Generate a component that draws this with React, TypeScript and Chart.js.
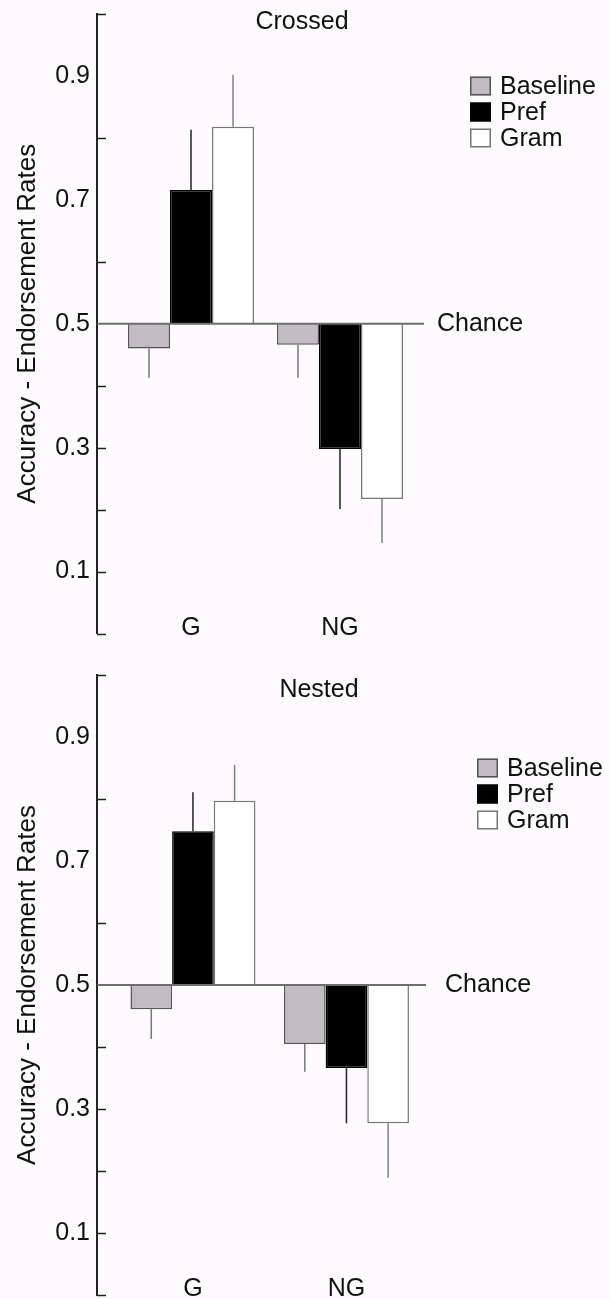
import React, { useEffect, useRef } from 'react';
import { Chart, registerables } from 'chart.js';

Chart.register(...registerables);

// ---------- data ----------
const GROUPS = ['G', 'NG'];
const GROUP_POS = [1, 2];
const SERIES = ['Baseline', 'Pref', 'Gram'];

const CROSSED_BASELINE = [0.46, 0.466];
const CROSSED_PREF = [0.716, 0.298];
const CROSSED_GRAM = [0.818, 0.217];
const CROSSED_BASELINE_ERR = [0.413, 0.413];
const CROSSED_PREF_ERR = [0.813, 0.201];
const CROSSED_GRAM_ERR = [0.902, 0.146];

const NESTED_BASELINE = [0.461, 0.405];
const NESTED_PREF = [0.748, 0.366];
const NESTED_GRAM = [0.797, 0.277];
const NESTED_BASELINE_ERR = [0.413, 0.36];
const NESTED_PREF_ERR = [0.811, 0.277];
const NESTED_GRAM_ERR = [0.855, 0.189];

const Y_TICK_LABELS = ['0.1', '0.3', '0.5', '0.7', '0.9'];
const Y_TICK_MARKS = [0, 0.1, 0.2, 0.3, 0.4, 0.6, 0.8, 1.0];
const CHANCE = 0.5;
const Y_TITLE = 'Accuracy - Endorsement Rates';
const CHANCE_LABEL = 'Chance';

// ---------- styles ----------
const FONT_FAMILY = '"Liberation Sans", Arial, sans-serif';
const FONT_SIZE = 25;
const TITLE_FONT_SIZE = 26;
const TEXT = '#111111';
const SERIES_FILL = ['#c0bcc1', '#000000', '#ffffff'];
const SERIES_BORDER = ['#555555', '#000000', '#777777'];
const SERIES_ERR = ['#777777', '#222222', '#808080'];

const decorPlugin = {
  id: 'decor',
  afterDatasetsDraw(chart: any, _args: any, opts: any) {
    const { ctx, chartArea: a, scales } = chart;
    const x = scales.x;
    const y = scales.y;
    ctx.save();

    // chance line
    const yc = y.getPixelForValue(CHANCE);
    ctx.strokeStyle = '#6e6e6e';
    ctx.lineWidth = 2;
    ctx.beginPath();
    ctx.moveTo(a.left, yc);
    ctx.lineTo(a.right, yc);
    ctx.stroke();

    // error bars (one-sided, away from chance)
    chart.data.datasets.forEach((ds: any, i: number) => {
      const meta = chart.getDatasetMeta(i);
      meta.data.forEach((el: any, j: number) => {
        const end = ds.errorEnds[j];
        ctx.strokeStyle = ds.errorColor;
        ctx.lineWidth = 1.5;
        ctx.beginPath();
        ctx.moveTo(el.x, el.y);
        ctx.lineTo(el.x, y.getPixelForValue(end));
        ctx.stroke();
      });
    });

    // inward tick marks on y axis
    ctx.strokeStyle = '#222222';
    ctx.lineWidth = 1.5;
    Y_TICK_MARKS.forEach((v) => {
      const py = Math.round(y.getPixelForValue(v)) + 0.5;
      ctx.beginPath();
      ctx.moveTo(a.left, py);
      ctx.lineTo(a.left + 9, py);
      ctx.stroke();
    });

    ctx.font = `${FONT_SIZE}px ${FONT_FAMILY}`;
    ctx.fillStyle = TEXT;

    // chance label
    ctx.textAlign = 'left';
    ctx.textBaseline = 'middle';
    ctx.fillText(CHANCE_LABEL, a.right + opts.chanceDX, yc);

    // panel title
    ctx.textAlign = 'center';
    ctx.fillText(opts.title, a.left + opts.titleDX, a.top + opts.titleDY);

    // group labels (inside plot, at bottom)
    ctx.textBaseline = 'alphabetic';
    GROUPS.forEach((g, i) => {
      ctx.fillText(g, x.getPixelForValue(GROUP_POS[i]), y.getPixelForValue(0) + 1);
    });

    // legend
    chart.data.datasets.forEach((ds: any, i: number) => {
      const cy = a.top + opts.legendDY + i * 26;
      const bx = a.right + opts.legendDX;
      ctx.fillStyle = ds.backgroundColor;
      ctx.fillRect(bx, cy - 9.5, 21, 19);
      ctx.strokeStyle = ds.borderColor;
      ctx.lineWidth = 1.5;
      ctx.strokeRect(bx + 0.75, cy - 8.75, 19.5, 17.5);
      ctx.fillStyle = TEXT;
      ctx.textAlign = 'left';
      ctx.textBaseline = 'middle';
      ctx.fillText(ds.label, bx + 30, cy + 1);
    });

    ctx.restore();
  },
};

type PanelProps = {
  width: number;
  height: number;
  title: string;
  values: number[][];
  errors: number[][];
  xMin: number;
  xMax: number;
  catPct: number;
  padRight: number;
  padBottom: number;
  titleDX: number;
  titleDY: number;
  legendDX: number;
  legendDY: number;
  chanceDX: number;
};

function Panel(p: PanelProps) {
  const ref = useRef<HTMLCanvasElement | null>(null);

  useEffect(() => {
    if (!ref.current) return;
    const datasets = SERIES.map((name, s) => ({
      label: name,
      data: GROUP_POS.map((gx, i) => ({ x: gx, y: p.values[s][i] })),
      base: CHANCE,
      backgroundColor: SERIES_FILL[s],
      borderColor: SERIES_BORDER[s],
      borderWidth: 1.5,
      errorEnds: p.errors[s],
      errorColor: SERIES_ERR[s],
      categoryPercentage: p.catPct,
      barPercentage: 1,
    }));

    const chart = new Chart(ref.current, {
      type: 'bar',
      data: { datasets: datasets as any },
      plugins: [decorPlugin as any],
      options: {
        responsive: false,
        animation: false,
        devicePixelRatio: 1,
        layout: { padding: { left: 0, top: 14, right: p.padRight, bottom: p.padBottom } },
        plugins: {
          legend: { display: false },
          tooltip: { enabled: false },
          title: { display: false },
          decor: {
            title: p.title,
            titleDX: p.titleDX,
            titleDY: p.titleDY,
            legendDX: p.legendDX,
            legendDY: p.legendDY,
            chanceDX: p.chanceDX,
          },
        } as any,
        scales: {
          x: {
            type: 'linear',
            display: false,
            offset: false,
            min: p.xMin,
            max: p.xMax,
            afterBuildTicks: (s: any) => {
              s.ticks = GROUP_POS.map((v) => ({ value: v }));
            },
            grid: { display: false },
          },
          y: {
            type: 'linear',
            min: 0,
            max: 1,
            afterFit: (s: any) => {
              s.width = 97;
              s.paddingTop = 0;
              s.paddingBottom = 0;
            },
            border: { display: true, color: '#222222', width: 2 },
            grid: { display: false, drawTicks: false },
            ticks: {
              stepSize: 0.1,
              autoSkip: false,
              padding: 7,
              color: TEXT,
              font: { family: FONT_FAMILY, size: FONT_SIZE },
              callback: (v: any) => {
                const s = Number(v).toFixed(1);
                return Y_TICK_LABELS.includes(s) ? s : null;
              },
            },
            title: {
              display: true,
              text: Y_TITLE,
              color: TEXT,
              font: { family: FONT_FAMILY, size: TITLE_FONT_SIZE },
              padding: { top: 12, bottom: 0 },
            },
          },
        } as any,
      },
    });
    return () => chart.destroy();
  }, []);

  return (
    <canvas
      ref={ref}
      width={p.width}
      height={p.height}
      style={{ display: 'block', width: p.width, height: p.height }}
    />
  );
}

export default function App() {
  return (
    <div
      style={{
        position: 'fixed',
        left: 0,
        top: 0,
        width: 610,
        height: 1299,
        overflow: 'hidden',
        background: '#fdfbfd',
      }}
    >
      <div style={{ position: 'absolute', left: 0, top: 0 }}>
        <Panel
          width={610}
          height={662}
          title="Crossed"
          values={[CROSSED_BASELINE, CROSSED_PREF, CROSSED_GRAM]}
          errors={[CROSSED_BASELINE_ERR, CROSSED_PREF_ERR, CROSSED_GRAM_ERR]}
          xMin={0.369}
          xMax={2.564}
          catPct={0.846}
          padRight={186}
          padBottom={28.5}
          titleDX={205}
          titleDY={8}
          legendDX={46}
          legendDY={72}
          chanceDX={13}
        />
      </div>
      <div style={{ position: 'absolute', left: 0, top: 661 }}>
        <Panel
          width={610}
          height={638}
          title="Nested"
          values={[NESTED_BASELINE, NESTED_PREF, NESTED_GRAM]}
          errors={[NESTED_BASELINE_ERR, NESTED_PREF_ERR, NESTED_GRAM_ERR]}
          xMin={0.375}
          xMax={2.518}
          catPct={0.814}
          padRight={184}
          padBottom={4}
          titleDX={222}
          titleDY={15}
          legendDX={51}
          legendDY={93}
          chanceDX={19}
        />
      </div>
    </div>
  );
}
